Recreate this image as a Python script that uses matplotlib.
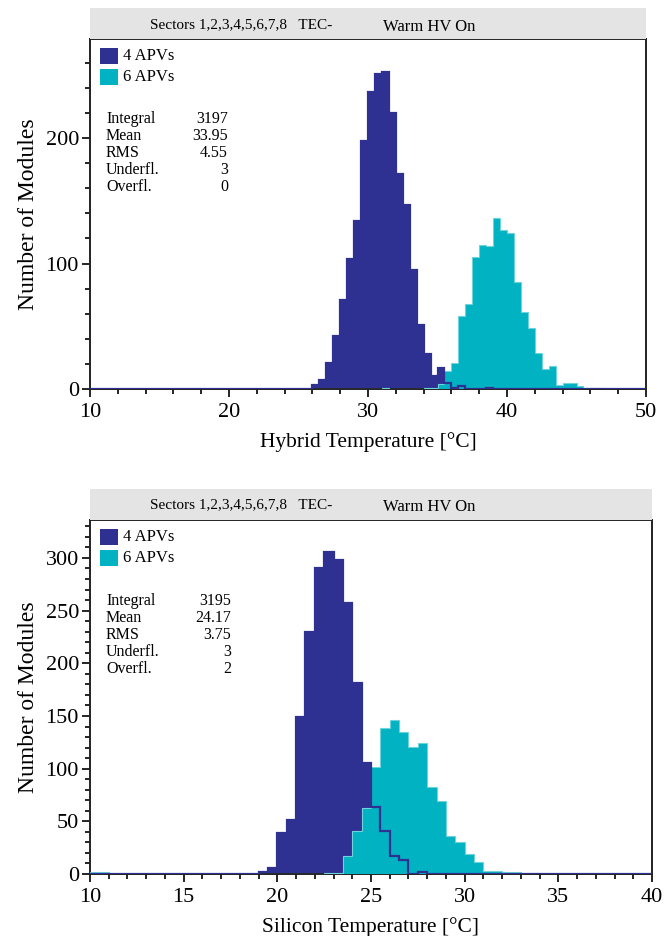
import numpy as np
import matplotlib
matplotlib.use("Agg")
import matplotlib.pyplot as plt
from matplotlib.patches import Rectangle
from matplotlib.ticker import MultipleLocator

plt.rcParams['font.family'] = ['Liberation Serif', 'DejaVu Serif']

W, H = 671, 936
DARK = '#2e3192'
CYAN = '#00b2c2'
BAND = '#e3e4e3'

# --- data (bin width 0.5 degC) ---
# hybrid temperature
hyb_4apv_start = 26.0
hyb_4apv = [3, 7, 21, 42, 71, 104, 134, 198, 237, 251, 253, 220, 171, 147, 95, 51,
            28, 10, 17, 5, 1, 2, 0, 0, 0, 1]
hyb_6apv_start = 31.0
hyb_6apv = [1, 0, 0, 0, 0, 0, 1, 1, 4, 14, 21, 58, 68, 105, 115, 114, 136, 127, 124,
            85, 61, 49, 29, 16, 18, 3, 5, 5, 2, 1, 1, 1]
hyb_stats = [('Integral', '3197'), ('Mean', '33.95'), ('RMS', '4.55'),
             ('Underfl.', '3'), ('Overfl.', '0')]

# silicon temperature
sil_4apv_start = 19.0
sil_4apv = [2, 6, 39, 51, 149, 230, 290, 306, 298, 257, 181, 105, 64, 41, 17, 13, 0, 2]
sil_6apv_low_start = 10.0
sil_6apv_low = [2, 2]
sil_6apv_start = 22.5
sil_6apv = [1, 1, 17, 41, 63, 102, 139, 146, 135, 121, 124, 83, 69, 36, 30, 19, 11,
            3, 3, 2, 2, 0, 1]
sil_stats = [('Integral', '3195'), ('Mean', '24.17'), ('RMS', '3.75'),
             ('Underfl.', '3'), ('Overfl.', '2')]

title_left = 'Sectors 1,2,3,4,5,6,7,8   TEC-'
title_right = 'Warm HV On'
legend_labels = ['4 APVs', '6 APVs']


def full(lo, hi, parts, width=0.5):
    edges = np.arange(lo, hi + width / 2, width)
    counts = np.zeros(len(edges) - 1)
    for start, vals in parts:
        i0 = int(round((start - lo) / width))
        counts[i0:i0 + len(vals)] = vals
    return edges, counts


def fx(x):
    return x / W


def fy(y):
    return 1 - y / H


fig = plt.figure(figsize=(W / 100, H / 100), dpi=100)


def panel(box, band, xlim, ylim, xmaj, xmin, ymaj, ymin, d4, d6, stats, xlabel,
          leg_y, stat_y, val_x, title_y):
    l, r, t, b = box
    ax = fig.add_axes([fx(l), fy(b), fx(r) - fx(l), fy(t) - fy(b)])
    e4, c4 = d4
    e6, c6 = d6
    ax.stairs(c4, e4, fill=True, color=DARK, zorder=2)
    ax.stairs(c6, e6, fill=True, facecolor=CYAN, edgecolor='#6fd3dc', lw=0.8, zorder=3)
    ax.stairs(c4, e4, color=DARK, lw=1.6, zorder=4)
    ax.set_xlim(*xlim)
    ax.set_ylim(*ylim)
    ax.xaxis.set_major_locator(MultipleLocator(xmaj))
    ax.xaxis.set_minor_locator(MultipleLocator(xmin))
    ax.yaxis.set_major_locator(MultipleLocator(ymaj))
    ax.yaxis.set_minor_locator(MultipleLocator(ymin))
    ax.tick_params(which='both', direction='out', top=False, right=False, width=1.2)
    ax.tick_params(which='major', length=6, labelsize=16, pad=2)
    ax.tick_params(axis='x', which='major', pad=4)
    ax.tick_params(which='minor', length=3.5)
    for s in ax.spines.values():
        s.set_linewidth(1.4)
        s.set_color('#222222')
    ax.set_xlabel(xlabel, fontsize=15.5, labelpad=7)
    ax.set_ylabel('Number of Modules', fontsize=17, labelpad=5)

    # title band
    bl, br, bt, bb = band
    fig.patches.append(Rectangle((fx(bl), fy(bb)), fx(br) - fx(bl), fy(bt) - fy(bb),
                                 transform=fig.transFigure, facecolor=BAND,
                                 edgecolor='none', zorder=0))
    fig.text(fx(150), fy(title_y), title_left, fontsize=11, va='center')
    fig.text(fx(383), fy(title_y + 2), title_right, fontsize=12, va='center')

    # legend
    for i, (lab, col) in enumerate(zip(legend_labels, [DARK, CYAN])):
        yc = leg_y + i * 21
        fig.patches.append(Rectangle((fx(100), fy(yc + 8)), fx(18), 16 / H,
                                     transform=fig.transFigure, facecolor=col,
                                     edgecolor='none', zorder=5))
        fig.text(fx(123), fy(yc), lab, fontsize=12, va='center')

    # stats box
    for i, (k, v) in enumerate(stats):
        yc = stat_y + i * 17
        fig.text(fx(106), fy(yc), k, fontsize=11.5, va='center')
        fig.text(fx(val_x), fy(yc), v, fontsize=11.5, va='center', ha='right')
    return ax


hyb4 = full(10, 50, [(hyb_4apv_start, hyb_4apv)])
hyb6 = full(10, 50, [(hyb_6apv_start, hyb_6apv)])
panel((90, 646, 39, 389), (90, 646, 8, 39), (10, 50), (0, 279), 10, 2, 100, 20,
      hyb4, hyb6, hyb_stats, 'Hybrid Temperature [°C]', 56, 119, 228, 25)

sil4 = full(10, 40, [(sil_4apv_start, sil_4apv)])
sil6 = full(10, 40, [(sil_6apv_low_start, sil_6apv_low), (sil_6apv_start, sil_6apv)])
panel((90, 652, 520, 874), (90, 652, 489, 520), (10, 40), (0, 336), 5, 1, 50, 10,
      sil4, sil6, sil_stats, 'Silicon Temperature [°C]', 537, 601, 231, 505)

fig.savefig('out.png', dpi=100)
